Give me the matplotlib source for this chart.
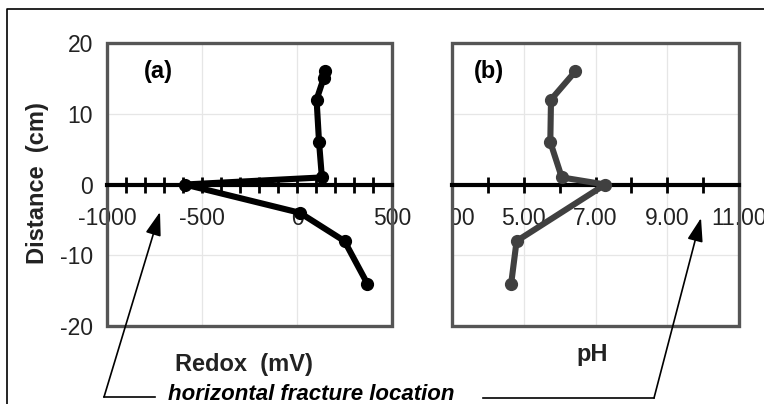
import numpy as np
import matplotlib
matplotlib.use("Agg")
import matplotlib.pyplot as plt
from matplotlib.lines import Line2D
from matplotlib.patches import Rectangle, FancyArrowPatch
from matplotlib.transforms import Bbox, TransformedBbox

# Redox profile (mV) against distance from the fracture (cm)
redox_mv = [147, 140, 103, 116, 131, -590, 15, 250, 370]
redox_dist = [16, 15, 12, 6, 1, 0, -4, -8, -14]

# pH profile against distance from the fracture (cm)
ph_val = [6.44, 5.76, 5.74, 6.06, 7.27, 4.80, 4.65]
ph_dist = [16, 12, 6, 1, 0, -8, -14]

y_ticks = [20, 10, 0, -10, -20]
redox_ticks = [-1000, -500, 0, 500]
ph_ticks = [3, 5, 7, 9, 11]
ph_tick_labels = ["3.00", "5.00", "7.00", "9.00", "11.00"]

W, H = 764, 404
plt.rcParams["font.family"] = ["Liberation Sans", "DejaVu Sans"]
plt.rcParams["axes.unicode_minus"] = False
fig = plt.figure(figsize=(W / 100, H / 100), dpi=100)


def fx(px):
    return px / W


def fy(py):
    return 1 - py / H


FRAME = "#555555"
GRID = "#e6e6e6"
TICK_FS = 16.5
LABEL_FS = 17


def setup_axes(ax, xmin, xmax, minor_step, major, labels):
    ax.set_xlim(xmin, xmax)
    ax.set_ylim(-20, 20)
    for s in ("top", "left", "right"):
        ax.spines[s].set_visible(False)
    ax.spines["bottom"].set_position(("data", 0))
    ax.spines["bottom"].set_linewidth(3)
    ax.spines["bottom"].set_color("black")
    ax.spines["bottom"].set_zorder(4)
    ax.set_xticks(major)
    ax.set_xticklabels(labels)
    ax.set_xticks(np.arange(xmin, xmax + minor_step / 2, minor_step), minor=True)
    ax.tick_params(axis="x", which="both", direction="inout", length=12,
                   width=2, color="black", labelsize=TICK_FS, pad=10,
                   labelcolor="#222222")
    ax.set_yticks(y_ticks)
    ax.grid(True, color=GRID, lw=0.9, zorder=0)
    ax.add_patch(Rectangle((0, 0), 1, 1, transform=ax.transAxes, fill=False,
                           ec=FRAME, lw=2.4, clip_on=False, zorder=3))


# Panel (a): redox
ax1 = fig.add_axes([fx(107), fy(326), fx(392) - fx(107), fy(43) - fy(326)])
setup_axes(ax1, -1000, 500, 100, redox_ticks, [str(t) for t in redox_ticks])
ax1.tick_params(axis="y", length=0, labelsize=TICK_FS, pad=10,
                labelcolor="#222222")
ax1.plot(redox_mv, redox_dist, color="black", lw=4.4, marker="o", ms=8.5,
         solid_joinstyle="round", zorder=5, clip_on=False)
ax1.text(0.18, 0.9, "(a)", transform=ax1.transAxes, fontsize=17,
         fontweight="bold", ha="center", va="center")

# Panel (b): pH
ax2 = fig.add_axes([fx(452), fy(326), fx(739) - fx(452), fy(43) - fy(326)])
setup_axes(ax2, 3, 11, 1, ph_ticks, ph_tick_labels)
ax2.tick_params(axis="y", length=0, labelleft=False)
ax2.plot(ph_val, ph_dist, color="#404040", lw=4.4, marker="o", ms=8.5,
         solid_joinstyle="round", zorder=5, clip_on=False)
ax2.text(0.13, 0.9, "(b)", transform=ax2.transAxes, fontsize=17,
         fontweight="bold", ha="center", va="center")

# the leftmost pH label is hidden where it runs past the panel edge
clip = TransformedBbox(Bbox.from_extents(fx(452), 0, 1, 1), fig.transFigure)
for tick in ax2.xaxis.get_major_ticks():
    tick.label1.set_clip_on(True)
    tick.label1.set_clip_box(clip)

# Axis titles
fig.text(fx(38), fy(183), "Distance  (cm)", rotation=90, fontsize=LABEL_FS,
         fontweight="bold", ha="center", va="center", color="#222222")
fig.text(fx(244), fy(364), "Redox  (mV)", fontsize=LABEL_FS,
         fontweight="bold", ha="center", va="center", color="#222222")
fig.text(fx(592), fy(355), "pH", fontsize=LABEL_FS,
         fontweight="bold", ha="center", va="center", color="#222222")
fig.text(fx(311), fy(394), "horizontal fracture location", fontsize=16,
         fontweight="bold", fontstyle="italic", ha="center", va="center")

# Leader lines pointing to the fracture
fig.add_artist(Line2D([fx(155), fx(104)], [fy(397), fy(397)], color="black", lw=1.2))
fig.add_artist(FancyArrowPatch((fx(104), fy(397)), (fx(160), fy(212)),
                               transform=fig.transFigure,
                               arrowstyle="-|>,head_length=0.9,head_width=0.3",
                               mutation_scale=16, color="black", lw=1.2,
                               shrinkA=0, shrinkB=0))
fig.add_artist(Line2D([fx(483), fx(654)], [fy(398), fy(398)], color="black", lw=1.2))
fig.add_artist(FancyArrowPatch((fx(654), fy(398)), (fx(701), fy(218)),
                               transform=fig.transFigure,
                               arrowstyle="-|>,head_length=0.9,head_width=0.3",
                               mutation_scale=16, color="black", lw=1.2,
                               shrinkA=0, shrinkB=0))

# Outer border (top and left edges)
fig.add_artist(Line2D([fx(7), fx(7), 1], [0, fy(9), fy(9)], color="black", lw=1.2))

fig.savefig("out.png", dpi=100)
